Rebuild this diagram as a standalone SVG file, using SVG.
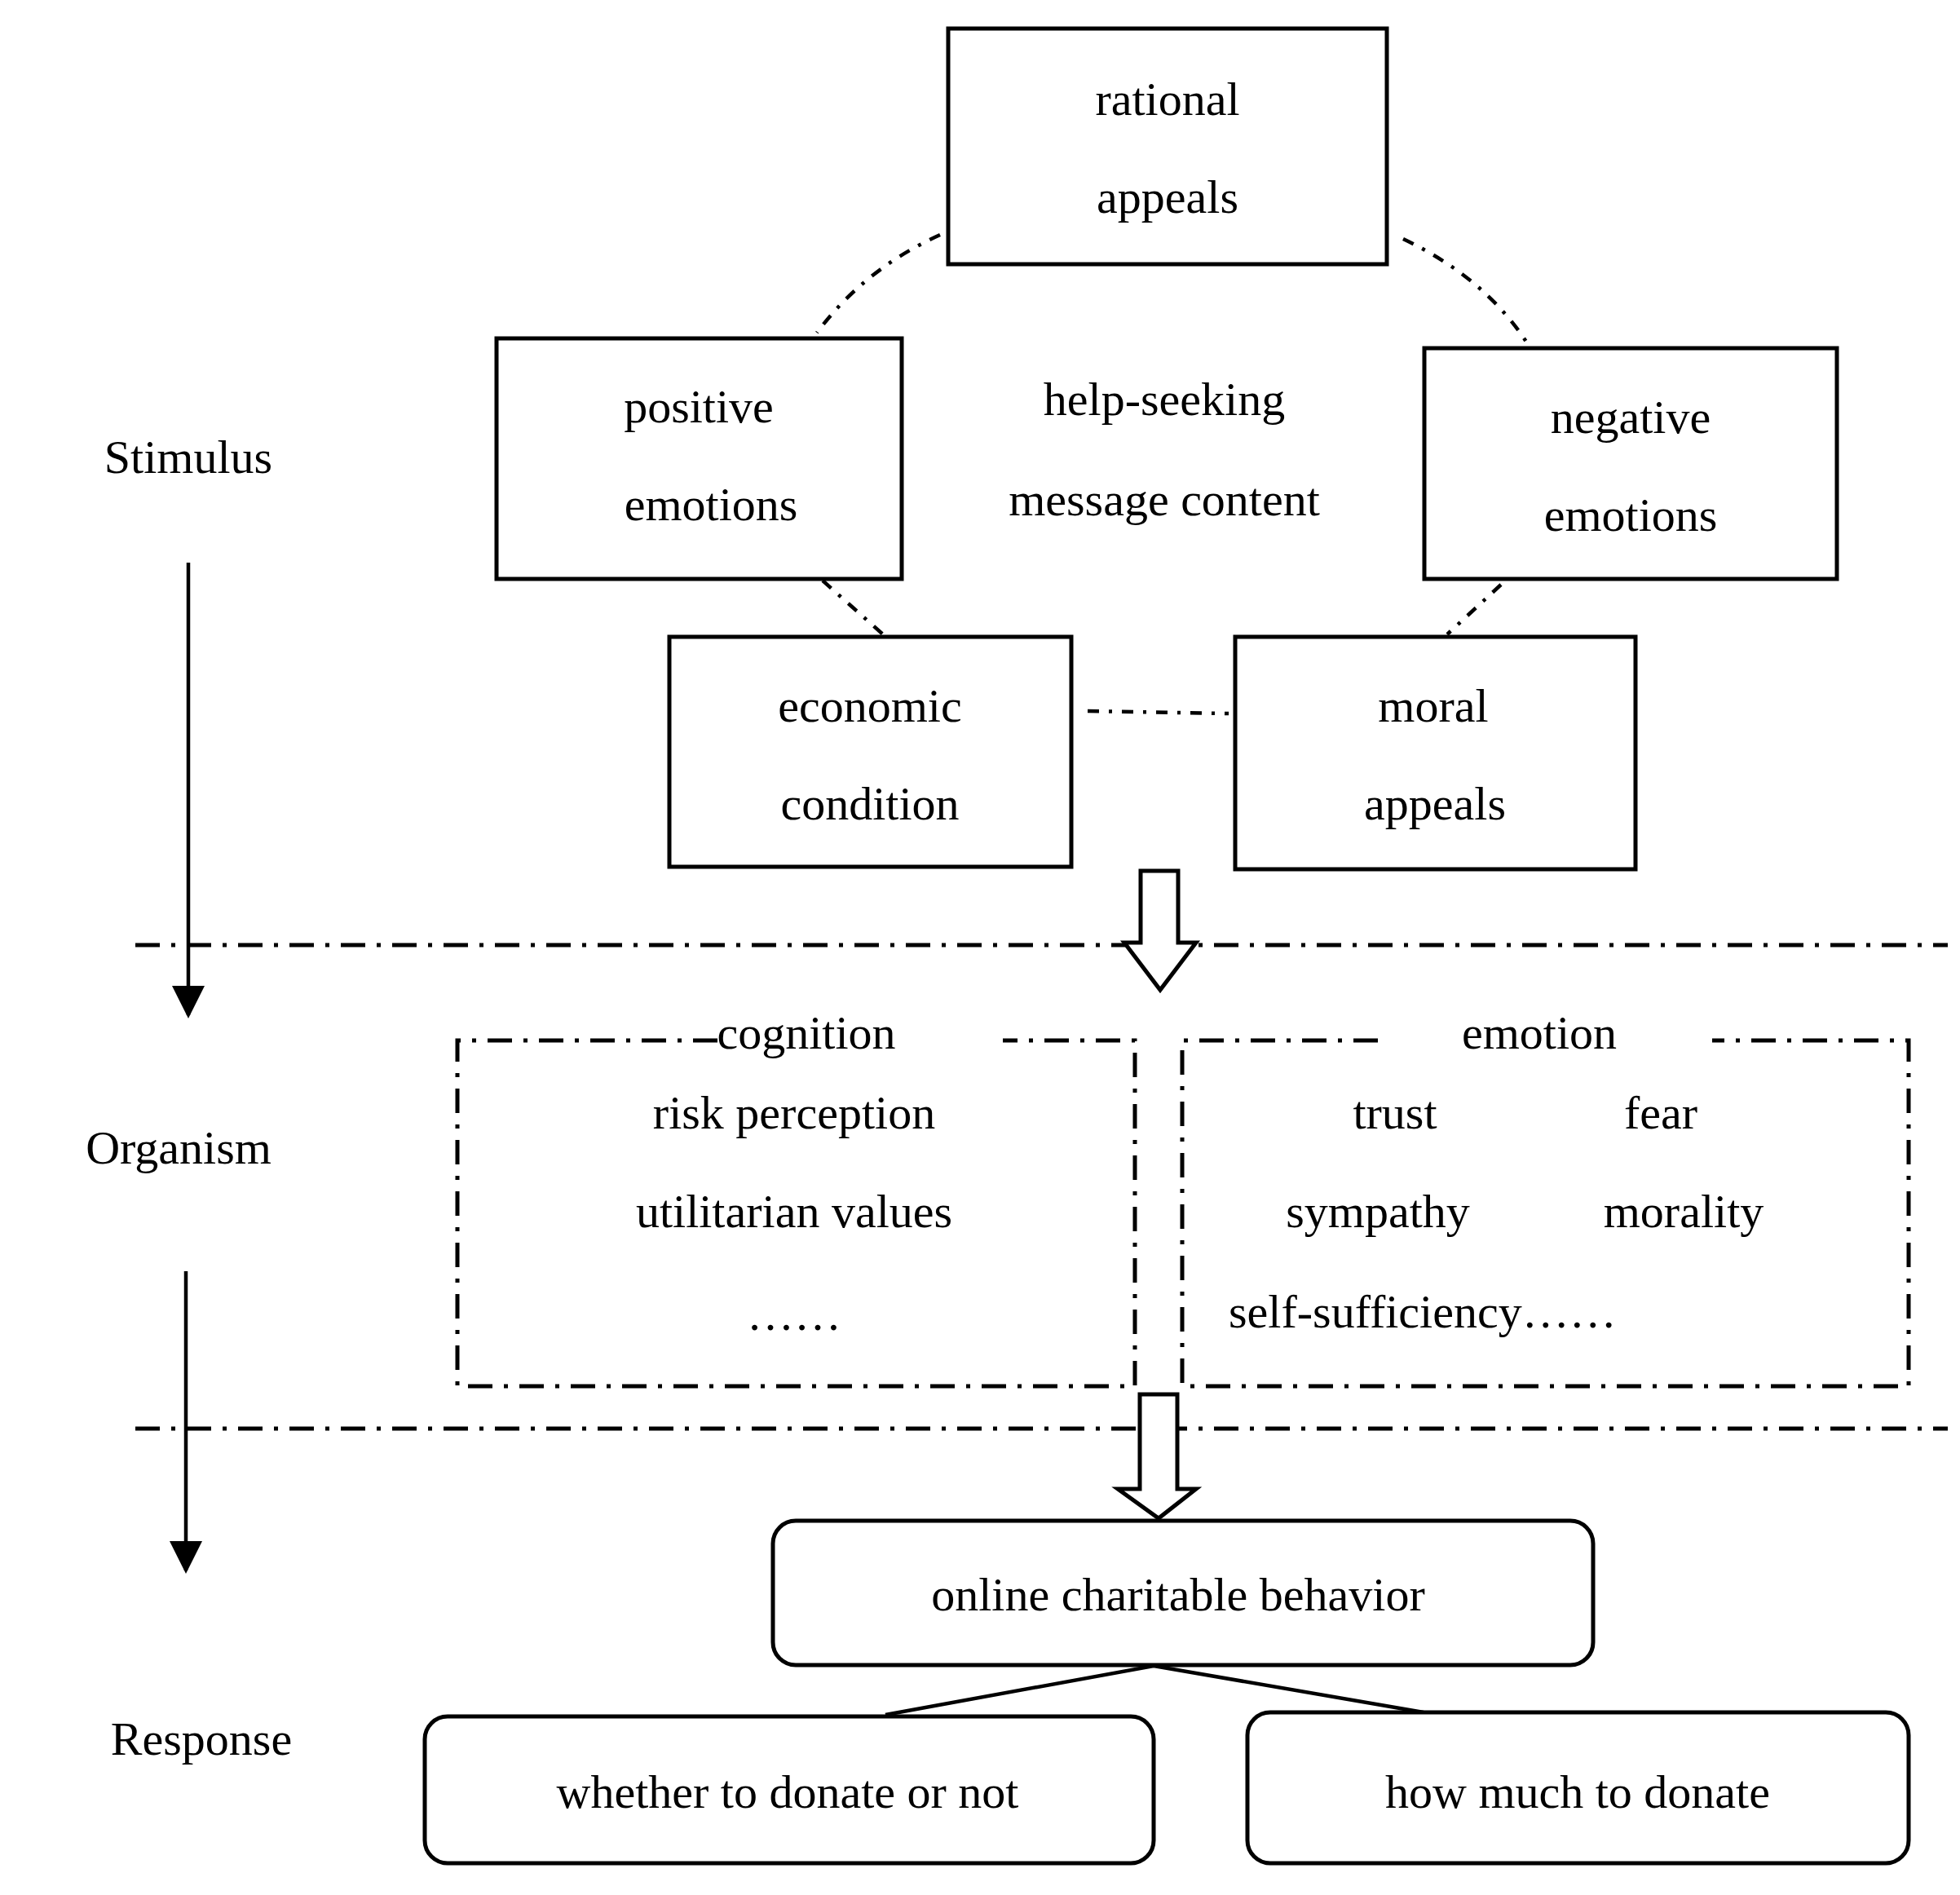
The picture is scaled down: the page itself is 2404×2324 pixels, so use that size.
<svg xmlns="http://www.w3.org/2000/svg" width="2404" height="2324" viewBox="0 0 2404 2324">
<style>
text{font-family:"Liberation Serif",serif;font-size:58px;fill:#000;text-anchor:middle;dominant-baseline:middle}
.box{fill:#fff;stroke:#000;stroke-width:5}
.dd{fill:none;stroke:#000;stroke-width:5;stroke-dasharray:30 14 5 14}
.con{fill:none;stroke:#000;stroke-width:4.5;stroke-dasharray:14 12 4 12}
.ln{stroke:#000;stroke-width:4.5;fill:none}
.hollow{fill:#fff;stroke:#000;stroke-width:5}
</style>
<defs><marker id="ah" viewBox="0 0 10 10" refX="9" refY="5" markerWidth="9" markerHeight="9" markerUnits="userSpaceOnUse" orient="auto"><path d="M0,0L10,5L0,10z"/></marker>
<marker id="a2" viewBox="0 0 10 10" refX="9" refY="5" markerWidth="40" markerHeight="40" markerUnits="userSpaceOnUse" orient="auto"><path d="M0,0L10,5L0,10z"/></marker></defs>
<rect width="2404" height="2324" fill="#fff"/>
<g id="connectors">
<path class="con" d="M1153,288 Q1060,330 1002,408"/>
<path class="con" d="M1721,293 Q1820,340 1872,419"/>
<path class="con" d="M1009,712 L1083,778"/>
<path class="con" d="M1841,717 L1775,778"/>
<path class="con" d="M1334,872 L1507,875"/>
<path class="dd" d="M166,1159 H2389"/>
<path class="dd" d="M166,1752 H2389"/>
<line class="ln" x1="231" y1="690" x2="231" y2="1245" marker-end="url(#a2)"/>
<line class="ln" x1="228" y1="1559" x2="228" y2="1926" marker-end="url(#a2)"/>
<path class="hollow" d="M1399,1068 H1445 V1156 H1467 L1423,1214 L1379,1156 H1399 Z"/>
<path class="hollow" d="M1398,1710 H1444 V1826 H1467 L1421,1862 L1371,1826 H1398 Z"/>
<path class="ln" d="M1086,2103 L1415,2043 L1746,2100"/>
</g>
<g id="labels">
<text x="231" y="567">Stimulus</text>
<text x="219" y="1414">Organism</text>
<text x="247" y="2139">Response</text>
<text x="1428" y="496">help-seeking</text>
<text x="1428" y="619">message content</text>
</g>
<g id="rational"><rect class="box" x="1163" y="35" width="538" height="289"/><text x="1432" y="128">rational</text><text x="1432" y="248">appeals</text></g>
<g id="positive"><rect class="box" x="609" y="415" width="497" height="295"/><text x="857" y="505">positive</text><text x="872" y="625">emotions</text></g>
<g id="negative"><rect class="box" x="1747" y="427" width="506" height="283"/><text x="2000" y="518">negative</text><text x="2000" y="638">emotions</text></g>
<g id="economic"><rect class="box" x="821" y="781" width="493" height="282"/><text x="1067" y="872">economic</text><text x="1067" y="992">condition</text></g>
<g id="moral"><rect class="box" x="1515" y="781" width="491" height="285"/><text x="1758" y="872">moral</text><text x="1760" y="992">appeals</text></g>
<g id="cognition"><path class="dd" d="M880,1276 H561 V1700 H1392 V1276 H1230"/><text x="989" y="1273">cognition</text><text x="974" y="1371">risk perception</text><text x="974" y="1492">utilitarian values</text><text x="974" y="1618">……</text></g>
<g id="emotion"><path class="dd" d="M1690,1276 H1450 V1700 H2341 V1276 H2100"/><text x="1888" y="1273">emotion</text><text x="1711" y="1371">trust</text><text x="2037" y="1371">fear</text><text x="1690" y="1492">sympathy</text><text x="2065" y="1492">morality</text><text x="1507" y="1615" style="text-anchor:start">self-sufficiency……</text></g>
<g id="online"><rect class="box" x="948" y="1865" width="1006" height="177" rx="28"/><text x="1445" y="1962">online charitable behavior</text></g>
<g id="whether"><rect class="box" x="521" y="2105" width="894" height="180" rx="28"/><text x="966" y="2204">whether to donate or not</text></g>
<g id="howmuch"><rect class="box" x="1530" y="2100" width="811" height="185" rx="28"/><text x="1935" y="2204">how much to donate</text></g>
</svg>
